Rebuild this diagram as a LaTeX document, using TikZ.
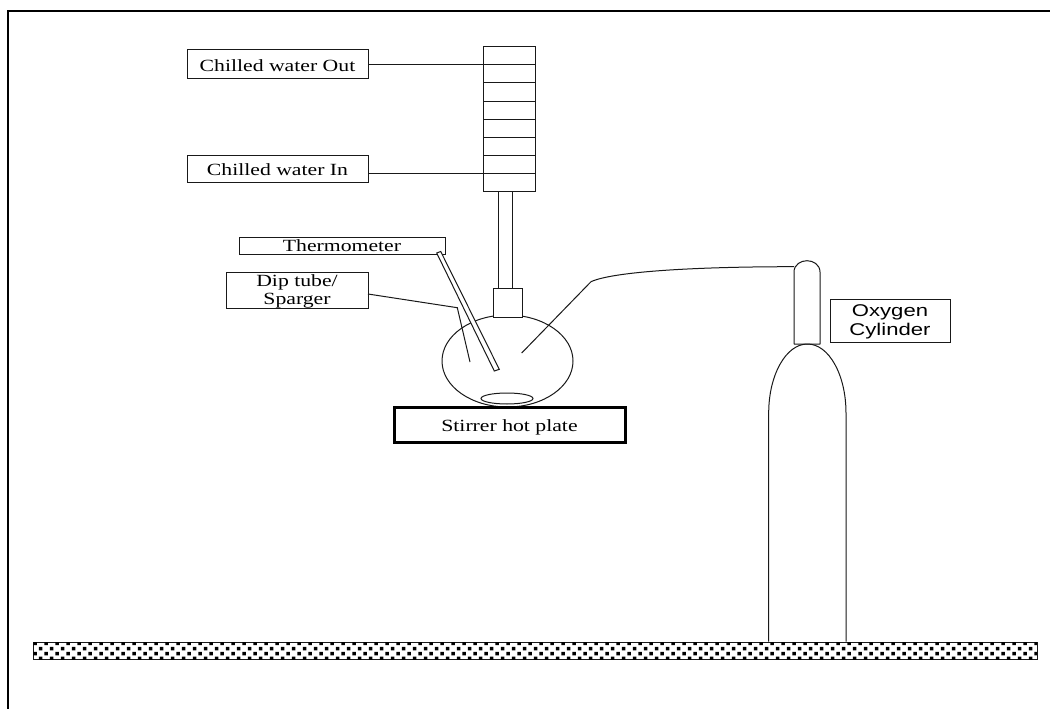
\documentclass[tikz,border=0pt]{standalone}
\usepackage{fontspec}
\setmainfont[FakeStretch=1.27]{Liberation Serif}
\newfontfamily\arialfont[FakeStretch=1.3]{Liberation Sans}
\usetikzlibrary{shapes.geometric}
\tikzset{
  ln/.style={line width=1pt,black!90},
  labelbox/.style={draw,line width=1pt,black!90,text=black,rectangle,inner sep=0pt,outer sep=0pt,align=center,
    font=\fontsize{17.1}{18}\selectfont},
  oneline/.style={text height=13pt,text depth=0pt},
  partbox/.style={draw,line width=1pt,black!90,fill=white,rectangle,inner sep=0pt,outer sep=0pt},
  round/.style={draw,line width=1pt,black!90,ellipse,inner sep=0pt,outer sep=0pt}
}
\begin{document}
\begin{tikzpicture}[x=1pt,y=-1pt]
\useasboundingbox (0,0) rectangle (1050,709);
\fill[white] (0,0) rectangle (1050,709);
% frame
\draw[line width=2pt,black,line cap=rect] (7.5,709) -- (7.5,11) -- (1050,11);
% ground
\node[partbox,minimum width=1004pt,minimum height=17pt,line width=1pt] (ground) at (535,650.5) {};
\begin{scope}
\clip (33,642) rectangle (1037,659.5);
\fill[black] foreach \i in {0,...,91} {
  (33.3+\i*11,641.6) rectangle +(3.6,3.6)
  (38.8+\i*11,646.8) rectangle +(3.6,3.6)
  (33.3+\i*11,651.8) rectangle +(3.6,3.6)
  (38.8+\i*11,656.6) rectangle +(3.6,3.2)
};
\end{scope}
% condenser
\node[partbox,minimum width=52pt,minimum height=144pt] (coil) at (509,119) {};
\foreach \yy in {65,83,101,119,137,155,173}
  \draw[ln] (483,\yy) -- (535,\yy);
\node[partbox,minimum width=13.5pt,minimum height=97pt] (tube) at (505.3,239.5) {};
% flask
\node[round,minimum width=131pt,minimum height=92pt] (flask) at (507.5,361) {};
\node[partbox,minimum width=29pt,minimum height=29pt] (neck) at (507.5,302.5) {};
\node[round,minimum width=52pt,minimum height=11pt] (bar) at (507,398.5) {};
% hot plate
\node[labelbox,oneline,line width=3pt,black,minimum width=231pt,minimum height=35pt] (plate) at (509.5,425) {Stirrer hot plate};
% labels
\node[labelbox,oneline,minimum width=181pt,minimum height=29pt] (out) at (277.5,64.5) {Chilled water Out};
\node[labelbox,oneline,minimum width=181pt,minimum height=27.5pt] (in) at (277.5,168.75) {Chilled water In};
\node[labelbox,minimum width=206pt,minimum height=17pt] (thermo) at (342,245.5) {Thermometer};
\node[labelbox,minimum width=142pt,minimum height=36pt] (dip) at (297,290) {\rule{0pt}{14pt}Dip tube/\\Sparger};
\node[labelbox,minimum width=120pt,minimum height=43pt,font=\arialfont\fontsize{17}{19}\selectfont] (oxy) at (890,320.5) {\rule{0pt}{15pt}Oxygen\\Cylinder};
% thermometer tube
\draw[ln,fill=white] (436.7,253) -- (440.7,251.5) -- (499.3,369.3) -- (494.3,371) -- cycle;
% named ends
\coordinate (outend) at (496.5,65);
\coordinate (inend) at (496.5,173);
\coordinate (dipbend) at (457.3,307.7);
\coordinate (dipend) at (470,362);
\coordinate (oxyend) at (521.7,353);
\coordinate (oxybend) at (591,281.7);
\coordinate (regin) at (794,266.7);
% connectors
\draw[ln] (out.east |- outend) -- (outend);
\draw[ln] (in.east |- inend) -- (inend);
\draw[ln] (dip.east |- 0,294) -- (dipbend) -- (dipend);
\draw[ln] (oxyend) -- (oxybend) .. controls (612,272) and (690,266.7) .. (regin);
% cylinder
\draw[ln] (768.7,641.5) -- (768.7,413) .. controls (768.7,375) and (786,344) .. (807.4,344)
  .. controls (829,344) and (846,375) .. (846,413) -- (846,641.5);
% regulator
\draw[ln,line join=round] (794,344) -- (794,272) .. controls (794,264.5) and (801,260.7) .. (807,260.7)
  .. controls (813,260.7) and (820,264.5) .. (820,272) -- (820,344) -- cycle;
\end{tikzpicture}
\end{document}
